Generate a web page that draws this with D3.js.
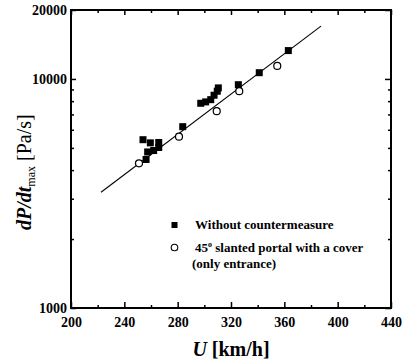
<!DOCTYPE html>
<html>
<head>
<meta charset="utf-8">
<script src="https://cdn.jsdelivr.net/npm/d3@7"></script>
<style>
  html, body { margin: 0; padding: 0; background: #fff; }
  svg { display: block; font-family: "Liberation Serif", "Times New Roman", serif; }
</style>
</head>
<body>
<div id="chart"></div>
<script>
// Data
var uNoCounter = [254, 259.5, 265.8, 265.8, 262, 257.5, 256.3, 283.8, 297.3, 301, 304.8, 307.3, 309.7, 310.5, 325.5, 341.2, 363];
var dpNoCounter = [5430, 5260, 5280, 5020, 4870, 4800, 4450, 6190, 7830, 7940, 8120, 8490, 8840, 9140, 9440, 10650, 13300];
var uCover = [251, 281, 309.3, 326.2, 354.7];
var dpCover = [4280, 5600, 7230, 8840, 11400];
var uFit = [222.5, 387.5];
var dpFit = [3200, 17000];

var xMajor = [200, 240, 280, 320, 360, 400, 440];
var xMinor = [220, 260, 300, 340, 380, 420];
var yMajor = [1000, 10000, 20000];
var yMinor = [2000, 3000, 4000, 5000, 6000, 7000, 8000, 9000];
var legendLabels = ['Without countermeasure', '45', '(only entrance)'];

var width = 403;
var height = 359;
var margin = { top: 10, right: 12, bottom: 51, left: 71 };

var svg = d3.select('#chart')
            .append('svg')
            .attr('width', width)
            .attr('height', height);

svg.append('rect')
   .attr('width', width)
   .attr('height', height)
   .attr('fill', '#fff');

var x = d3.scaleLinear()
          .domain([200, 440])
          .range([margin.left, width - margin.right]);
var y = d3.scaleLog()
          .domain([1000, 20000])
          .range([height - margin.bottom, margin.top]);

// Axes (ticks point inward)
function styleAxis(g) {
  g.select('.domain').remove();
  g.selectAll('.tick line').attr('stroke', '#000').attr('stroke-width', 1.5);
  g.selectAll('.tick text')
   .attr('fill', '#000')
   .attr('font-family', '"Liberation Serif", serif')
   .attr('font-weight', 'bold')
   .attr('font-size', 14);
}

svg.append('g')
   .attr('transform', 'translate(0,' + y.range()[0] + ')')
   .call(d3.axisBottom(x).tickValues(xMajor).tickSize(-6).tickPadding(9).tickFormat(d3.format('d')))
   .call(styleAxis);
svg.append('g')
   .attr('transform', 'translate(0,' + y.range()[0] + ')')
   .call(d3.axisBottom(x).tickValues(xMinor).tickSize(-3).tickFormat(''))
   .call(styleAxis);
svg.append('g')
   .attr('transform', 'translate(0,' + y.range()[1] + ')')
   .call(d3.axisTop(x).tickValues(xMajor).tickSize(-5).tickFormat(''))
   .call(styleAxis);
svg.append('g')
   .attr('transform', 'translate(0,' + y.range()[1] + ')')
   .call(d3.axisTop(x).tickValues(xMinor).tickSize(-3).tickFormat(''))
   .call(styleAxis);

svg.append('g')
   .attr('transform', 'translate(' + x.range()[0] + ',0)')
   .call(d3.axisLeft(y).tickValues(yMajor).tickSize(-5).tickPadding(4).tickFormat(d3.format('d')))
   .call(styleAxis);
svg.append('g')
   .attr('transform', 'translate(' + x.range()[0] + ',0)')
   .call(d3.axisLeft(y).tickValues(yMinor).tickSize(-3).tickFormat(''))
   .call(styleAxis);
svg.append('g')
   .attr('transform', 'translate(' + x.range()[1] + ',0)')
   .call(d3.axisRight(y).tickValues(yMajor).tickSize(-6).tickFormat(''))
   .call(styleAxis);
svg.append('g')
   .attr('transform', 'translate(' + x.range()[1] + ',0)')
   .call(d3.axisRight(y).tickValues(yMinor).tickSize(-3).tickFormat(''))
   .call(styleAxis);

// Frame
svg.append('rect')
   .attr('x', x.range()[0])
   .attr('y', y.range()[1])
   .attr('width', x.range()[1] - x.range()[0])
   .attr('height', y.range()[0] - y.range()[1])
   .attr('fill', 'none')
   .attr('stroke', '#000')
   .attr('stroke-width', 2);

// Fit line
var line = d3.line()
             .x(function (d) { return x(d[0]); })
             .y(function (d) { return y(d[1]); });
svg.append('path')
   .datum(d3.zip(uFit, dpFit))
   .attr('d', line)
   .attr('fill', 'none')
   .attr('stroke', '#000')
   .attr('stroke-width', 1.1);

// Filled squares
var sq = 7;
svg.append('g')
   .selectAll('rect')
   .data(d3.zip(uNoCounter, dpNoCounter))
   .enter()
   .append('rect')
   .attr('x', function (d) { return x(d[0]) - sq / 2; })
   .attr('y', function (d) { return y(d[1]) - sq / 2; })
   .attr('width', sq)
   .attr('height', sq)
   .attr('fill', '#000');

// Open circles
svg.append('g')
   .selectAll('circle')
   .data(d3.zip(uCover, dpCover))
   .enter()
   .append('circle')
   .attr('cx', function (d) { return x(d[0]); })
   .attr('cy', function (d) { return y(d[1]); })
   .attr('r', 3.5)
   .attr('fill', '#fff')
   .attr('stroke', '#000')
   .attr('stroke-width', 1.2);

// Legend
var legend = svg.append('g')
                .attr('font-weight', 'bold')
                .attr('font-size', 13)
                .attr('fill', '#000');
legend.append('rect')
      .attr('x', 171.5)
      .attr('y', 222)
      .attr('width', 6)
      .attr('height', 6)
      .attr('fill', '#000');
legend.append('text')
      .attr('x', 195)
      .attr('y', 228.5)
      .text(legendLabels[0]);
legend.append('circle')
      .attr('cx', 174.5)
      .attr('cy', 247.5)
      .attr('r', 3.3)
      .attr('fill', 'none')
      .attr('stroke', '#000')
      .attr('stroke-width', 1.1);
var t2 = legend.append('text')
               .attr('x', 195)
               .attr('y', 251.5);
t2.append('tspan').text(legendLabels[1]);
t2.append('tspan').attr('font-size', 8).attr('dy', -5).text('o');
t2.append('tspan').attr('dy', 5).text(' slanted portal with a cover');
legend.append('text')
      .attr('x', 192)
      .attr('y', 268)
      .text(legendLabels[2]);

// Axis titles
var xt = svg.append('text')
            .attr('x', (x.range()[0] + x.range()[1]) / 2)
            .attr('y', 356)
            .attr('text-anchor', 'middle')
            .attr('font-size', 20)
            .attr('font-weight', 'bold');
xt.append('tspan').attr('font-style', 'italic').text('U');
xt.append('tspan').text(' [km/h]');

var yt = svg.append('text')
            .attr('transform', 'translate(31,230) rotate(-90)')
            .attr('font-size', 20);
yt.append('tspan').attr('font-style', 'italic').attr('font-weight', 'bold').text('dP/dt');
yt.append('tspan').attr('font-size', 12).attr('dy', 4).text('max');
yt.append('tspan').attr('dy', -4).text(' [Pa/s]');
</script>
</body>
</html>
